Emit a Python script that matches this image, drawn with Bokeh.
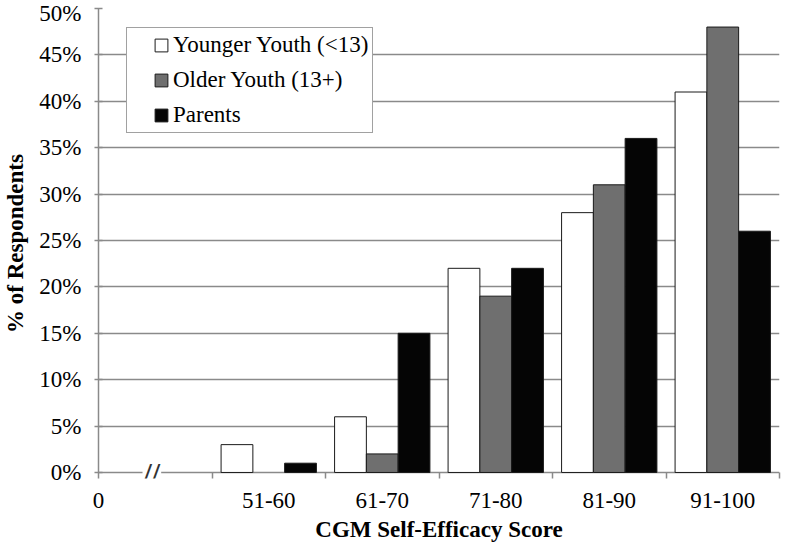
import numpy as np
from bokeh.plotting import figure
from bokeh.models import (ColumnDataSource, FixedTicker, PrintfTickFormatter, Legend,
                          LegendItem, Label, CDSView, BooleanFilter)
from bokeh.transform import dodge
from bokeh.embed import file_html
from bokeh.resources import INLINE

# ---- data -------------------------------------------------------------
categories = ["51-60", "61-70", "71-80", "81-90", "91-100"]
younger = [3, 6, 22, 28, 41]
older = [0, 2, 19, 31, 48]
parents = [1, 15, 22, 36, 26]
series_names = ["Younger Youth (<13)", "Older Youth (13+)", "Parents"]
y_ticks = [0, 5, 10, 15, 20, 25, 30, 35, 40, 45, 50]
zero_label = "0"
x_title = "CGM Self-Efficacy Score"
y_title = "% of Respondents"

# ---- layout / style ---------------------------------------------------
FONT = "Liberation Serif"
GRID = "#8a8a8a"
fills = ["#ffffff", "#6f6f6f", "#050505"]
cols = ["younger", "older", "parents"]
bar_w = 0.28
offsets = [-0.28, 0.0, 0.28]

# first slot on the axis is reserved for the "0 //" axis break
pos = np.arange(len(categories)) + 1.5
source = ColumnDataSource(dict(x=pos, cat=categories, younger=younger,
                               older=older, parents=parents))

# a little room below zero so the category ticks and the axis break hang below the zero line
p = figure(width=784, height=549, x_range=(0, len(categories) + 1), y_range=(-0.65, 50),
           output_backend="svg", toolbar_location=None,
           min_border_left=89, min_border_right=5, min_border_top=8, min_border_bottom=71)
p.outline_line_color = None
p.background_fill_color = "white"

renderers = []
for c, f, o, vals in zip(cols, fills, offsets, [younger, older, parents]):
    view = CDSView(filter=BooleanFilter([v > 0 for v in vals]))
    r = p.vbar(x=dodge("x", o, range=p.x_range), top=c, width=bar_w, source=source, view=view,
               fill_color=f, line_color="#1a1a1a", line_width=1)
    renderers.append(r)

# ---- axes ---------------------------------------------------------------
p.yaxis.ticker = FixedTicker(ticks=y_ticks)
p.yaxis.formatter = PrintfTickFormatter(format="%d%%")
p.yaxis.major_tick_in = 4
p.yaxis.major_tick_out = 4
p.yaxis.minor_tick_line_color = None
p.yaxis.major_label_standoff = 13
p.yaxis.axis_label = y_title
p.yaxis.axis_label_standoff = 8

p.xaxis.ticker = FixedTicker(ticks=[0.0] + [float(v) for v in pos],
                             minor_ticks=[float(v) for v in np.arange(1, len(categories) + 2)])
overrides = {0.0: zero_label}
overrides.update({float(x): c for x, c in zip(pos, categories)})
p.xaxis.major_label_overrides = overrides
p.xaxis.axis_line_color = None
p.xaxis.major_tick_line_color = None
p.xaxis.major_tick_in = 0
p.xaxis.major_tick_out = 0
p.xaxis.minor_tick_in = 6
p.xaxis.minor_tick_out = 0
p.xaxis.minor_tick_line_color = GRID
p.xaxis.minor_tick_line_width = 1.5
p.xaxis.major_label_standoff = 14
p.xaxis.axis_label = x_title
p.xaxis.axis_label_standoff = 6

for ax in (p.xaxis, p.yaxis):
    ax.major_label_text_font = FONT
    ax.major_label_text_font_size = "23px"
    ax.major_label_text_color = "black"
    ax.axis_label_text_font = FONT
    ax.axis_label_text_font_size = "23px"
    ax.axis_label_text_font_style = "bold"
    ax.axis_label_text_color = "black"
p.yaxis.axis_line_color = GRID
p.yaxis.axis_line_width = 1.5
p.yaxis.major_tick_line_color = GRID
p.yaxis.major_tick_line_width = 1.5

p.xgrid.visible = False
p.ygrid.ticker = FixedTicker(ticks=y_ticks)
p.ygrid.grid_line_color = GRID
p.ygrid.grid_line_width = 1.5

# axis-break marker on the zero line
brk = Label(x=0.47, y=0, text="//", text_font=FONT, text_font_size="30px",
            text_font_style="bold", text_align="center", text_baseline="middle",
            text_color="#333333", padding=1,
            background_fill_color="white", background_fill_alpha=1.0)
p.add_layout(brk)

# ---- legend -------------------------------------------------------------
legend = Legend(items=[LegendItem(label=n, renderers=[r]) for n, r in zip(series_names, renderers)],
                location=(28, 345), padding=4, spacing=9, margin=0,
                title=" ", title_location="left", title_text_font_size="15px", title_standoff=5,
                glyph_width=16, glyph_height=16, label_standoff=4,
                label_text_font=FONT, label_text_font_size="23px", label_text_color="black",
                border_line_color="#444444", border_line_width=1.5,
                background_fill_color="white", background_fill_alpha=1.0)
p.add_layout(legend, "center")

open("out.html", "w").write(file_html(p, INLINE))
